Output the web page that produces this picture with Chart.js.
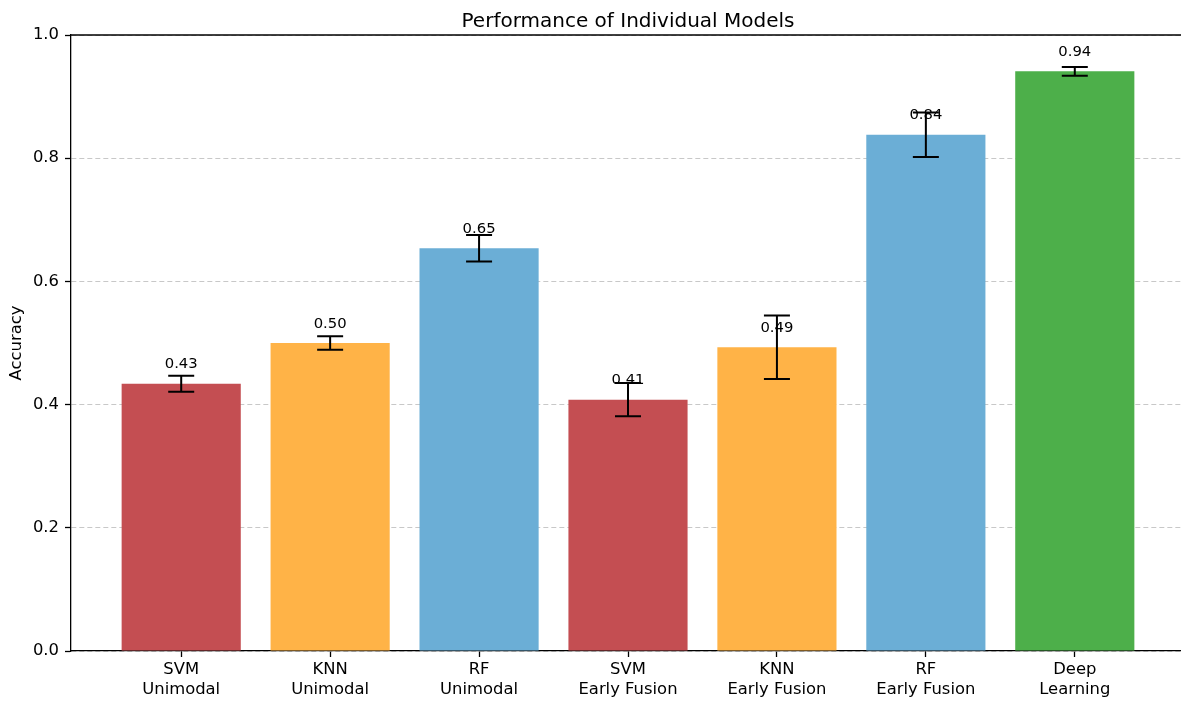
<!DOCTYPE html>
<html>
<head>
<meta charset="utf-8">
<script src="https://cdn.jsdelivr.net/npm/chart.js@4/dist/chart.umd.min.js"></script>
<style>
  html, body { margin: 0; padding: 0; background: #ffffff; overflow: hidden; }
  #wrap { position: relative; width: 1185px; height: 702px; }
</style>
</head>
<body>
<div id="wrap"><canvas id="chart"></canvas></div>
<script>
// Model accuracies (mean and standard deviation over runs)
const modelNames   = ['SVM', 'KNN', 'RF', 'SVM', 'KNN', 'RF', 'Deep'];
const settingNames = ['Unimodal', 'Unimodal', 'Unimodal', 'Early Fusion', 'Early Fusion', 'Early Fusion', 'Learning'];
const accuracy     = [0.434, 0.500, 0.654, 0.408, 0.493, 0.838, 0.941];
const accuracyStd  = [0.013, 0.011, 0.0215, 0.027, 0.0515, 0.036, 0.007];
const yTickValues  = [0, 0.2, 0.4, 0.6, 0.8, 1.0];

// Colour per model family
const FAMILY_COLORS = { SVM: '#c44e52', KNN: '#ffb347', RF: '#6baed6', Deep: '#4daf4a' };

const FONT = 'DejaVu Sans';
Chart.defaults.font.family = FONT;
Chart.defaults.color = '#000000';

const SPINE = '#000000';
const SPINE_W = 1.3;

// Title, top spine, error bars and value labels
const overlay = {
  id: 'overlay',
  afterDraw(chart) {
    const { ctx, chartArea, scales } = chart;
    const y = scales.y;
    ctx.save();
    // title
    ctx.fillStyle = '#000';
    ctx.font = '20px "' + FONT + '"';
    ctx.textAlign = 'center';
    ctx.textBaseline = 'alphabetic';
    ctx.fillText('Performance of Individual Models', (chartArea.left + chartArea.right) / 2, 26.5);
    // top spine
    ctx.strokeStyle = SPINE;
    ctx.lineWidth = SPINE_W;
    ctx.beginPath();
    ctx.moveTo(chartArea.left - SPINE_W / 2, chartArea.top);
    ctx.lineTo(chartArea.right, chartArea.top);
    ctx.stroke();

    const meta = chart.getDatasetMeta(0);
    // value labels
    ctx.font = '14.8px "' + FONT + '"';
    ctx.fillStyle = '#000';
    meta.data.forEach((bar, i) => {
      const v = accuracy[i];
      ctx.fillText(v.toFixed(2), bar.x, y.getPixelForValue(v + 0.025));
    });
    // error bars
    ctx.strokeStyle = '#000';
    ctx.lineWidth = 2;
    const cap = 13;
    meta.data.forEach((bar, i) => {
      const hi = y.getPixelForValue(accuracy[i] + accuracyStd[i]);
      const lo = y.getPixelForValue(accuracy[i] - accuracyStd[i]);
      ctx.beginPath();
      ctx.moveTo(bar.x, hi); ctx.lineTo(bar.x, lo);
      ctx.moveTo(bar.x - cap, hi); ctx.lineTo(bar.x + cap, hi);
      ctx.moveTo(bar.x - cap, lo); ctx.lineTo(bar.x + cap, lo);
      ctx.stroke();
    });
    ctx.restore();
  }
};

new Chart(document.getElementById('chart'), {
  type: 'bar',
  data: {
    datasets: [{
      label: 'Accuracy',
      data: accuracy.map((v, i) => ({ x: i, y: v })),
      backgroundColor: (c) => FAMILY_COLORS[modelNames[c.dataIndex]],
      borderWidth: 0,
      categoryPercentage: 1.0,
      barPercentage: 0.8
    }]
  },
  options: {
    responsive: true,
    maintainAspectRatio: false,
    animation: false,
    layout: { padding: { top: 35, left: 0, right: 0, bottom: 0 } },
    plugins: {
      legend: { display: false },
      title: { display: false },
      tooltip: { enabled: false }
    },
    scales: {
      x: {
        type: 'linear',
        min: -0.74,
        max: 6.74,
        offset: false,
        afterBuildTicks: (scale) => { scale.ticks = modelNames.map((_, i) => ({ value: i })); },
        afterFit: (scale) => { scale.height = 51; },
        ticks: {
          autoSkip: false,
          maxRotation: 0,
          padding: 3,
          font: { size: 16.4, lineHeight: 1.2 },
          color: '#000',
          callback: (value) => [modelNames[value] === 'Deep' ? 'Deep' : modelNames[value], settingNames[value]]
        },
        grid: {
          display: true,
          drawOnChartArea: false,
          drawTicks: true,
          tickLength: 6,
          tickColor: SPINE,
          tickWidth: SPINE_W,
          offset: false
        },
        border: { display: true, color: SPINE, width: SPINE_W }
      },
      y: {
        type: 'linear',
        min: 0,
        max: 1,
        afterBuildTicks: (scale) => { scale.ticks = yTickValues.map(v => ({ value: v })); },
        afterFit: (scale) => { scale.width = 71; },
        ticks: {
          padding: 6,
          font: { size: 16.4 },
          color: '#000',
          callback: (value) => value.toFixed(1)
        },
        grid: {
          display: true,
          drawOnChartArea: true,
          drawTicks: true,
          color: 'rgba(176,176,176,0.7)',
          lineWidth: 1,
          tickLength: 6,
          tickColor: SPINE,
          tickWidth: SPINE_W,
          tickBorderDash: []
        },
        border: { display: true, color: SPINE, width: SPINE_W, dash: [5, 3] },
        title: {
          display: true,
          text: 'Accuracy',
          font: { size: 16.4 },
          color: '#000',
          padding: { top: 7, bottom: 0 }
        }
      }
    }
  },
  plugins: [overlay]
});
</script>
</body>
</html>
